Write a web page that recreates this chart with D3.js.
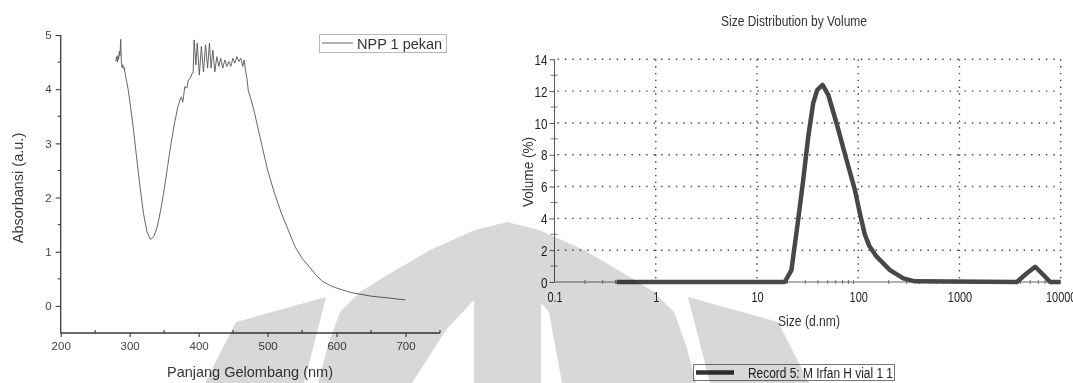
<!DOCTYPE html>
<html>
<head>
<meta charset="utf-8">
<script src="https://cdn.jsdelivr.net/npm/d3@7/dist/d3.min.js"></script>
<style>
  html, body { margin: 0; padding: 0; background: #ffffff; }
  svg { display: block; }
  text { font-family: 'Liberation Sans', Arial, Helvetica, sans-serif; }
</style>
</head>
<body>
<svg id="chart" width="1073" height="383"></svg>
<script>
// ---------------- Data: UV-Vis (left) ----------------
const uvWavelength = [280, 281, 282, 283, 284, 285, 286, 287, 288, 289, 290, 291, 292, 294, 296, 298,
  300, 305, 310, 315, 320, 325, 330, 335, 340, 345, 350, 355, 360, 365, 370, 373, 375, 377, 380, 383,
  385, 388, 390, 392, 393.5, 396, 398, 401, 404, 407, 410, 413, 415.7, 418, 420.6, 423.5, 426.4, 429.3,
  432, 435, 438, 441, 443.8, 446.7, 449.6, 452.5, 455.4, 458.3, 461.2, 464, 466, 468, 470, 472, 475,
  480, 490, 500, 510, 520, 530, 540, 550, 560, 570, 580, 590, 600, 620, 650, 680, 700];
const uvAbsorbance = [4.52, 4.6, 4.5, 4.62, 4.55, 4.7, 4.62, 4.92, 4.5, 4.4, 4.45, 4.38, 4.4, 4.25, 4.12, 3.98,
  3.8, 3.31, 2.75, 2.2, 1.71, 1.37, 1.23, 1.28, 1.46, 1.77, 2.14, 2.57, 3.0, 3.37, 3.68, 3.8, 3.86, 3.76, 4.05, 4.02,
  4.17, 4.2, 4.28, 4.3, 4.91, 4.45, 4.85, 4.26, 4.79, 4.32, 4.82, 4.39, 4.85, 4.39, 4.72, 4.32, 4.6, 4.42,
  4.57, 4.39, 4.54, 4.42, 4.51, 4.42, 4.57, 4.48, 4.6, 4.51, 4.57, 4.42, 4.54, 4.35, 4.2, 3.98, 3.85,
  3.62, 3.06, 2.51, 2.08, 1.71, 1.40, 1.09, 0.88, 0.73, 0.57, 0.45, 0.38, 0.33, 0.25, 0.18, 0.14, 0.11];
const uvXTicks = [200, 300, 400, 500, 600, 700];
const uvYTicks = [0, 1, 2, 3, 4, 5];
const uvLegend = "NPP 1 pekan";
const uvXTitle = "Panjang Gelombang (nm)";
const uvYTitle = "Absorbansi (a.u.)";

// ---------------- Data: DLS (right) ----------------
const dlsSize = [0.41, 18.8, 21.9, 25.5, 28.6, 32.1, 35.9, 39.4, 44.5, 50.6, 61.1, 76.7, 92.7, 104, 116, 128,
  152, 206, 279, 363, 3690, 4630, 5600, 6760, 7870, 10000];
const dlsVolume = [0, 0, 0.75, 3.9, 6.4, 9.14, 11.24, 12.08, 12.39, 11.76, 9.98, 7.67, 5.79, 4.3, 3.0, 2.3,
  1.59, 0.75, 0.23, 0.04, 0, 0.55, 0.96, 0.44, 0, 0];
const dlsXTicks = [0.1, 1, 10, 100, 1000, 10000];
const dlsXTickLabels = ["0.1", "1", "10", "100", "1000", "10000"];
const dlsYTicks = [0, 2, 4, 6, 8, 10, 12, 14];
const dlsTitle = "Size Distribution by Volume";
const dlsXTitle = "Size (d.nm)";
const dlsYTitle = "Volume (%)";
const dlsLegend = "Record 5: M Irfan H vial 1 1";

const svg = d3.select("#chart");

// horizontally condense text elements about their own x anchor (narrow-font look)
function condense(sel, k) {
  sel.each(function () {
    const x0 = +(this.getAttribute("x") || 0);
    this.setAttribute("transform", `translate(${x0},0) scale(${k},1) translate(${-x0},0)`);
  });
}

// =============== LEFT CHART ===============
{
  const x = d3.scaleLinear().domain([200, 750]).range([60.7, 440]);
  const y = d3.scaleLinear().domain([-0.5, 5]).range([333, 35]);
  const g = svg.append("g");
  const axisColor = "#3a3a3a";

  const yAxis = d3.axisLeft(y).tickValues(uvYTicks).tickSize(5).tickPadding(4).tickFormat(d3.format("d"));
  const ya = g.append("g").attr("transform", `translate(${x(200)},0)`).call(yAxis);
  ya.select(".domain").attr("stroke", axisColor).attr("stroke-width", 1.3).attr("d", `M0,${y(-0.5)}V${y(5)}`);
  ya.selectAll(".tick line").attr("stroke", axisColor).attr("stroke-width", 1.1);
  ya.selectAll(".tick text").attr("fill", "#444").attr("font-size", 11.5).attr("font-family", "'Liberation Sans', Arial, sans-serif");
  const yMinor = d3.range(0.5, 5, 1);
  g.append("g").selectAll("line").data(yMinor).join("line")
    .attr("x1", x(200) - 3).attr("x2", x(200)).attr("y1", d => y(d)).attr("y2", d => y(d))
    .attr("stroke", axisColor).attr("stroke-width", 1.1);

  const xAxis = d3.axisBottom(x).tickValues(uvXTicks).tickSize(4).tickPadding(5).tickFormat(d3.format("d"));
  const xa = g.append("g").attr("transform", `translate(0,${y(-0.5)})`).call(xAxis);
  xa.select(".domain").attr("stroke", axisColor).attr("stroke-width", 1.3).attr("d", `M${x(200)},0H${x(750)}`);
  xa.selectAll(".tick line").attr("stroke", axisColor).attr("stroke-width", 1.1);
  xa.selectAll(".tick text").attr("fill", "#444").attr("font-size", 11.5).attr("font-family", "'Liberation Sans', Arial, sans-serif");
  const xMinor = [250, 350, 450, 550, 650, 750];
  g.append("g").selectAll("line").data(xMinor).join("line")
    .attr("x1", d => x(d)).attr("x2", d => x(d)).attr("y1", y(-0.5) - 3).attr("y2", y(-0.5))
    .attr("stroke", axisColor).attr("stroke-width", 1.1);

  g.append("text").attr("x", 250).attr("y", 377).attr("text-anchor", "middle")
    .attr("font-size", 14.5).attr("fill", "#3a3a3a").text(uvXTitle);
  g.append("text").attr("transform", "translate(23,188) rotate(-90)").attr("text-anchor", "middle")
    .attr("font-size", 14.5).attr("fill", "#3a3a3a").text(uvYTitle);

  const line = d3.line().x((d, i) => x(uvWavelength[i])).y(d => y(d));
  g.append("path").datum(uvAbsorbance).attr("d", line).attr("fill", "none")
    .attr("stroke", "#555").attr("stroke-width", 0.9).attr("stroke-linejoin", "round");

  g.append("rect").attr("x", 319.5).attr("y", 34.5).attr("width", 127).attr("height", 18)
    .attr("fill", "#fff").attr("stroke", "#b8b8b8").attr("stroke-width", 1);
  g.append("line").attr("x1", 322).attr("x2", 353).attr("y1", 43).attr("y2", 43)
    .attr("stroke", "#555").attr("stroke-width", 0.9);
  g.append("text").attr("x", 357).attr("y", 48.5).attr("font-size", 14.5).attr("fill", "#333").text(uvLegend);
}

// =============== RIGHT CHART ===============
{
  const x = d3.scaleLog().domain([0.1, 10000]).range([554.5, 1060.7]);
  const y = d3.scaleLinear().domain([0, 14]).range([282, 59.3]);
  const g = svg.append("g");

  g.append("text").attr("x", 794).attr("y", 25.5).attr("text-anchor", "middle")
    .attr("font-size", 14).attr("fill", "#333")
    .attr("textLength", 146).attr("lengthAdjust", "spacingAndGlyphs").text(dlsTitle);

  // grid
  g.append("g").selectAll("line").data(dlsYTicks.filter(d => d > 0)).join("line")
    .attr("x1", x(0.1) + 3).attr("x2", x(10000)).attr("y1", d => y(d)).attr("y2", d => y(d))
    .attr("stroke", "#444").attr("stroke-width", 1.4).attr("stroke-dasharray", "1.4,6");
  g.append("g").selectAll("line").data(dlsXTicks.filter(d => d > 0.1)).join("line")
    .attr("x1", d => x(d)).attr("x2", d => x(d)).attr("y1", y(14)).attr("y2", y(0))
    .attr("stroke", "#444").attr("stroke-width", 1.4).attr("stroke-dasharray", "1.4,5.4");

  // y axis
  const yAxis = d3.axisLeft(y).tickValues(dlsYTicks).tickSize(5).tickPadding(2).tickFormat(d3.format("d"));
  const ya = g.append("g").attr("transform", `translate(${x(0.1)},0)`).call(yAxis);
  ya.select(".domain").attr("stroke", "#555").attr("stroke-width", 1).attr("d", `M0,${y(0)}V${y(14)}`);
  ya.selectAll(".tick line").attr("stroke", "#555");
  ya.selectAll(".tick text").attr("fill", "#222").attr("font-size", 14.5)
    .attr("font-family", "'Liberation Sans', Arial, sans-serif").attr("dy", "0.36em");
  condense(ya.selectAll(".tick text"), 0.8);
  const yMinor = d3.range(1, 14, 2);
  g.append("g").selectAll("line").data(yMinor).join("line")
    .attr("x1", x(0.1) - 4).attr("x2", x(0.1) + 3).attr("y1", d => y(d)).attr("y2", d => y(d))
    .attr("stroke", "#666").attr("stroke-width", 0.9);

  // x axis
  const xAxis = d3.axisBottom(x).tickValues(dlsXTicks).tickSize(0).tickPadding(10)
    .tickFormat((d, i) => dlsXTickLabels[i]);
  const xa = g.append("g").attr("transform", `translate(0,${y(0)})`).call(xAxis);
  xa.select(".domain").attr("stroke", "#666").attr("stroke-width", 1).attr("d", `M${x(0.1)},0H${x(10000)}`);
  xa.selectAll(".tick text").attr("fill", "#222").attr("font-size", 14)
    .attr("font-family", "'Liberation Sans', Arial, sans-serif");
  condense(xa.selectAll(".tick text"), 0.78);
  const xMinor = [];
  for (let e = -1; e < 4; e++) for (let k = 2; k <= 9; k++) xMinor.push(k * Math.pow(10, e));
  g.append("g").selectAll("line").data(xMinor).join("line")
    .attr("x1", d => x(d)).attr("x2", d => x(d)).attr("y1", y(0) - 2).attr("y2", y(0) + 2)
    .attr("stroke", "#666").attr("stroke-width", 0.9);

  g.append("text").attr("x", 809).attr("y", 325.5).attr("text-anchor", "middle")
    .attr("font-size", 14).attr("fill", "#333")
    .attr("textLength", 62).attr("lengthAdjust", "spacingAndGlyphs").text(dlsXTitle);
  g.append("text").attr("transform", "translate(533,172) rotate(-90)").attr("text-anchor", "middle")
    .attr("font-size", 14).attr("fill", "#333")
    .attr("textLength", 70).attr("lengthAdjust", "spacingAndGlyphs").text(dlsYTitle);

  const line = d3.line().x((d, i) => x(dlsSize[i])).y(d => y(d));
  g.append("path").datum(dlsVolume).attr("d", line).attr("fill", "none")
    .attr("stroke", "#474747").attr("stroke-width", 4.5).attr("stroke-linejoin", "round");

  g.append("rect").attr("x", 693.5).attr("y", 364.5).attr("width", 201).attr("height", 16)
    .attr("fill", "none").attr("stroke", "#777").attr("stroke-width", 1);
  g.append("line").attr("x1", 696).attr("x2", 734).attr("y1", 372.5).attr("y2", 372.5)
    .attr("stroke", "#333").attr("stroke-width", 4.5);
  g.append("text").attr("x", 748).attr("y", 377.5).attr("font-size", 14).attr("fill", "#222")
    .attr("textLength", 145).attr("lengthAdjust", "spacingAndGlyphs").text(dlsLegend);
}

// =============== WATERMARK (light gray logo, multiplied over the charts) ===============
{
  const cx = 507;
  const mirror = pts => pts.map(([px, py]) => [2 * cx - px, py]);
  const wingL = [[205, 383], [236, 322], [326, 297], [304, 383]];
  const outerL = [[318, 383], [328, 345], [340, 312], [360, 292], [384, 277], [430, 250], [475, 230], [507, 222]];
  const gapL = [[412, 383], [446, 330], [474, 300], [474, 383]];
  const gapR = [[541, 383], [541, 303], [549, 312], [562, 383]];
  const arch = outerL.concat(mirror(outerL).reverse());
  const wm = svg.append("g").style("mix-blend-mode", "multiply");
  const path = d3.line();
  wm.selectAll("path.s").data([wingL, mirror(wingL), arch]).join("path").attr("class", "s")
    .attr("d", d => path(d) + "Z").attr("fill", "#d8d8d8");
  wm.selectAll("path.g").data([gapL, gapR]).join("path").attr("class", "g")
    .attr("d", d => path(d) + "Z").attr("fill", "#ffffff");
}
</script>
</body>
</html>
